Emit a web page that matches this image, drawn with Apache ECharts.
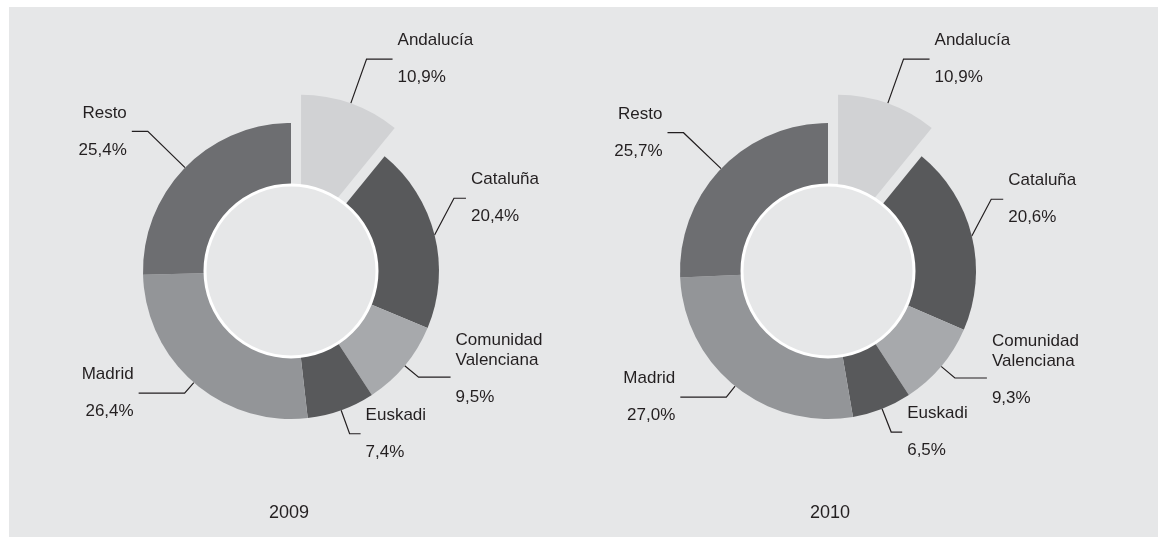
<!DOCTYPE html>
<html>
<head>
<meta charset="utf-8">
<title>Distribución por comunidades 2009 - 2010</title>
<script src="https://cdn.jsdelivr.net/npm/echarts@6/dist/echarts.min.js"></script>
<style>
  html, body { margin: 0; padding: 0; background: #fff; }
  #chart { position: absolute; left: 9px; top: 7px; width: 1149px; height: 530px; background: #e6e7e8; }
</style>
</head>
<body>
<div id="chart"></div>
<script>
// datos
var categories = ['Andalucía', 'Cataluña', 'Comunidad Valenciana', 'Euskadi', 'Madrid', 'Resto'];
var share2009 = [10.9, 20.4, 9.5, 7.4, 26.4, 25.4];
var share2010 = [10.9, 20.6, 9.3, 6.5, 27.0, 25.7];
var years = ['2009', '2010'];

// estilo
var bg = '#e6e7e8';
var ink = '#231f20';
var font = '"Liberation Sans", Arial, sans-serif';
var sliceColors = ['#d1d2d4', '#58595b', '#a7a9ac', '#58595b', '#939598', '#6d6e71'];
// guías de las etiquetas: [length, length2]
var guide = [[47, 26], [20, 12], [18, 32], [25, 11], [14, 46], [52, 16]];
// desplazamiento vertical extra de algunas etiquetas
var labelShift = [0, -32, 0, 0, 0, 0];
var centers = [[282, 264], [819, 264]];
var yearX = [280, 821];

function pct(v) {
  return v.toFixed(1).replace('.', ',') + '%';
}

function donut(values, idx) {
  var data = categories.map(function (name, i) {
    return {
      name: name,
      value: values[i],
      selected: i === 0,
      itemStyle: { color: sliceColors[i] },
      labelLine: { length: guide[i][0], length2: guide[i][1] }
    };
  });
  var txt = { color: ink, fontFamily: font, fontSize: 17 };
  return {
    type: 'pie',
    center: centers[idx],
    radius: [0, 148],
    startAngle: 90,
    clockwise: true,
    selectedMode: 'single',
    selectedOffset: 30,
    avoidLabelOverlap: false,
    silent: true,
    z: 2,
    itemStyle: { borderWidth: 0 },
    label: {
      color: ink,
      fontFamily: font,
      fontSize: 17,
      formatter: function (p) {
        var name = p.name.replace(' ', '\n');
        if (name.indexOf('\n') > -1) {
          return '{m|' + name + '}\n{w|' + pct(p.value) + '}';
        }
        return '{n|' + name + '}\n{v|' + pct(p.value) + '}';
      },
      rich: {
        n: Object.assign({ lineHeight: 37 }, txt),
        v: Object.assign({ lineHeight: 37 }, txt),
        m: Object.assign({ lineHeight: 20 }, txt),
        w: Object.assign({ lineHeight: 54 }, txt)
      }
    },
    labelLine: { lineStyle: { color: ink, width: 1.2 } },
    labelLayout: function (p) {
      var dy = labelShift[p.dataIndex];
      if (!dy || !p.labelLinePoints) return {};
      var pts = p.labelLinePoints;
      return {
        y: p.labelRect.y + p.labelRect.height / 2 + dy,
        labelLinePoints: [pts[0], [pts[1][0], pts[1][1] + dy], [pts[2][0], pts[2][1] + dy]]
      };
    },
    data: data
  };
}

// hueco central con borde blanco
function hole(idx) {
  return {
    type: 'pie',
    center: centers[idx],
    radius: [0, 86],
    silent: true,
    z: 3,
    label: { show: false },
    labelLine: { show: false },
    itemStyle: { color: bg, borderColor: '#ffffff', borderWidth: 3 },
    data: [{ name: 'hueco', value: 1 }]
  };
}

var chart = echarts.init(document.getElementById('chart'));
var option = {
  animation: false,
  backgroundColor: bg,
  title: years.map(function (y, i) {
    return {
      text: y,
      left: yearX[i],
      top: 497,
      padding: 0,
      textAlign: 'center',
      textStyle: { color: ink, fontFamily: font, fontSize: 18, fontWeight: 'normal' }
    };
  }),
  series: [donut(share2009, 0), hole(0), donut(share2010, 1), hole(1)]
};
chart.setOption(option);
</script>
</body>
</html>
